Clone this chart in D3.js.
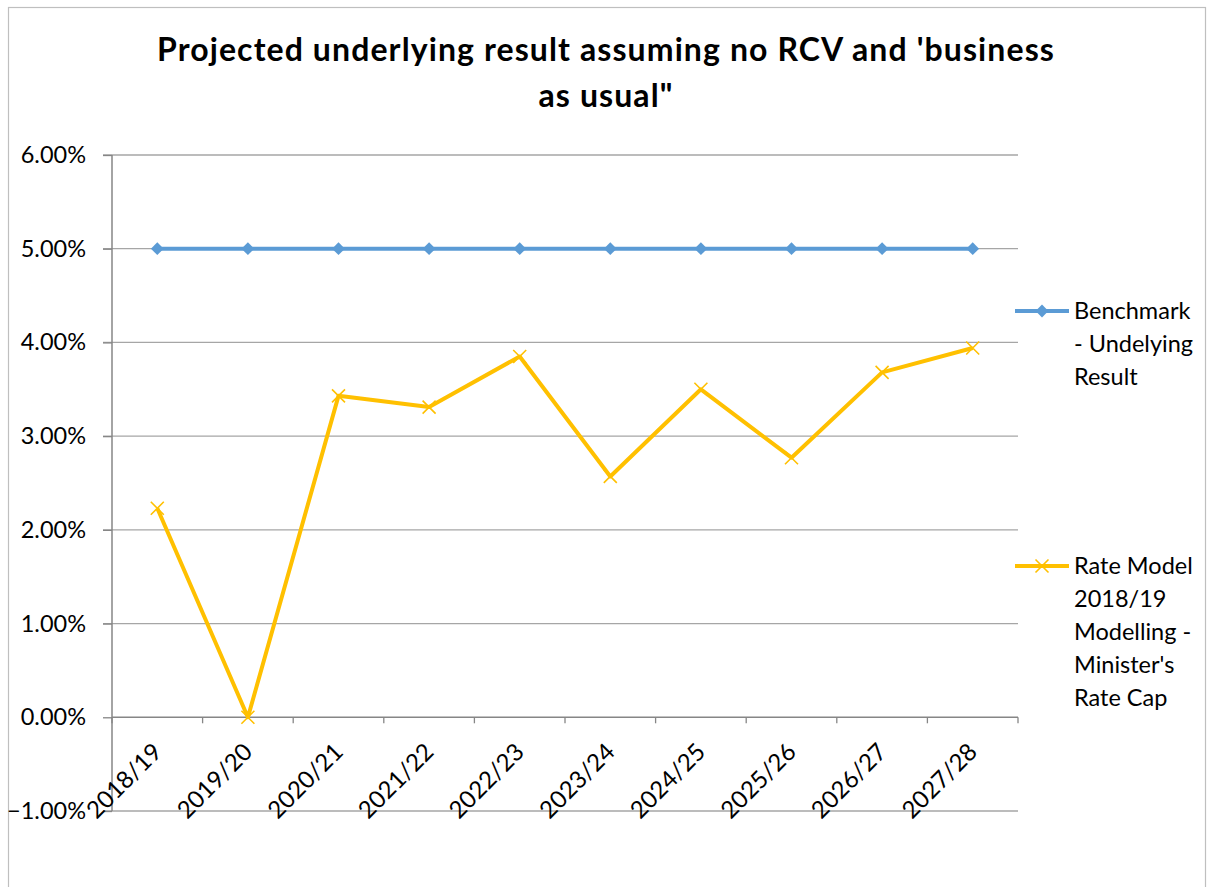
<!DOCTYPE html>
<html>
<head>
<meta charset="utf-8">
<script src="https://cdn.jsdelivr.net/npm/d3@7"></script>
<style>
  body { margin: 0; background: #fff; }
  text { font-family: Lato, "Open Sans", sans-serif; fill: #000; }
</style>
</head>
<body>
<script>
const width = 1212;
const height = 887;

// chart data (percent)
const years = ["2018/19", "2019/20", "2020/21", "2021/22", "2022/23",
               "2023/24", "2024/25", "2025/26", "2026/27", "2027/28"];
const benchmark = [5, 5, 5, 5, 5, 5, 5, 5, 5, 5];
const rateModel = [2.23, 0.00, 3.43, 3.31, 3.85, 2.57, 3.50, 2.77, 3.68, 3.94];
const yTicks = [-1, 0, 1, 2, 3, 4, 5, 6];
const titleLines = ["Projected underlying result assuming no RCV and 'business", "as usual\""];
const seriesNames = [
  ["Benchmark", "- Undelying", "Result"],
  ["Rate Model", "2018/19", "Modelling -", "Minister's", "Rate Cap"]
];

const BLUE = "#5b9bd5";
const GOLD = "#ffc000";
const GRID = "#a6a6a6";
const AXIS = "#868686";

const plot = { left: 112, right: 1018, top: 155, bottom: 811 };

const svg = d3.select("body").append("svg")
    .attr("width", width)
    .attr("height", height);

// chart frame
svg.append("rect")
    .attr("x", 8.5).attr("y", 7.5)
    .attr("width", 1197).attr("height", 920)
    .attr("fill", "none")
    .attr("stroke", "#bfbfbf")
    .attr("stroke-width", 1.2);

// title
svg.append("g").selectAll("text")
    .data(titleLines)
    .enter().append("text")
    .attr("x", 606)
    .attr("y", (d, i) => 61 + i * 46)
    .attr("text-anchor", "middle")
    .attr("font-size", 32)
    .attr("letter-spacing", 1.1)
    .attr("font-weight", "bold")
    .text(d => d);

const x = d3.scaleBand()
    .domain(years)
    .range([plot.left, plot.right]);

const y = d3.scaleLinear()
    .domain([-1, 6])
    .range([plot.bottom, plot.top]);

// horizontal gridlines
svg.append("g").selectAll("line")
    .data(yTicks.filter(t => t !== 0))
    .enter().append("line")
    .attr("x1", plot.left - 9).attr("x2", plot.right)
    .attr("y1", d => y(d)).attr("y2", d => y(d))
    .attr("stroke", GRID)
    .attr("stroke-width", 1.3);

// y axis
const yAxis = svg.append("g")
    .attr("transform", `translate(${plot.left},0)`)
    .call(d3.axisLeft(y)
        .tickValues(yTicks)
        .tickFormat(d => d3.format(".2f")(d) + "%")
        .tickSize(9)
        .tickPadding(17));
yAxis.select(".domain").attr("stroke", AXIS).attr("stroke-width", 1.5)
    .attr("d", `M0,${plot.top}V${plot.bottom}`);
yAxis.selectAll(".tick line").attr("stroke", AXIS).attr("stroke-width", 1.3);
yAxis.selectAll(".tick text")
    .attr("font-size", 23.5)
    .attr("font-family", "Lato, sans-serif")
    .attr("fill", "#000");

// x axis at zero, ticks between categories
const xg = svg.append("g");
xg.append("line")
    .attr("x1", plot.left).attr("x2", plot.right)
    .attr("y1", y(0)).attr("y2", y(0))
    .attr("stroke", AXIS).attr("stroke-width", 1.5);
const bounds = years.map(d => x(d)).concat([plot.right]);
xg.selectAll("line.tk")
    .data(bounds)
    .enter().append("line")
    .attr("class", "tk")
    .attr("x1", d => d).attr("x2", d => d)
    .attr("y1", y(0)).attr("y2", y(0) + 6)
    .attr("stroke", AXIS).attr("stroke-width", 1.3);
xg.selectAll("text")
    .data(years)
    .enter().append("text")
    .attr("transform", d => `translate(${x(d) + x.bandwidth() / 2 + 6},${y(0) + 36}) rotate(-45)`)
    .attr("text-anchor", "end")
    .attr("font-size", 24)
    .text(d => d);

const cx = d => x(d) + x.bandwidth() / 2;
const line = d3.line().x(d => cx(d[0])).y(d => y(d[1]));
const diamond = d3.symbol().type(d3.symbolSquare).size(82);

// benchmark series
svg.append("path")
    .datum(d3.zip(years, benchmark))
    .attr("d", line)
    .attr("fill", "none")
    .attr("stroke", BLUE)
    .attr("stroke-width", 4)
    .attr("stroke-linejoin", "round");
svg.append("g").selectAll("path")
    .data(d3.zip(years, benchmark))
    .enter().append("path")
    .attr("transform", d => `translate(${cx(d[0])},${y(d[1])}) rotate(45)`)
    .attr("d", diamond)
    .attr("fill", BLUE);

// rate model series
svg.append("path")
    .datum(d3.zip(years, rateModel))
    .attr("d", line)
    .attr("fill", "none")
    .attr("stroke", GOLD)
    .attr("stroke-width", 4)
    .attr("stroke-linejoin", "round");

function cross(g, px, py) {
  g.append("path")
      .attr("d", `M${px - 6.5},${py - 6.5}L${px + 6.5},${py + 6.5}M${px - 6.5},${py + 6.5}L${px + 6.5},${py - 6.5}`)
      .attr("stroke", GOLD)
      .attr("stroke-width", 1.6)
      .attr("fill", "none");
}
const crosses = svg.append("g");
d3.zip(years, rateModel).forEach(d => cross(crosses, cx(d[0]), y(d[1])));

// legend
const legend = svg.append("g");
const legendY = [311, 566];
const colors = [BLUE, GOLD];
seriesNames.forEach((names, i) => {
  const ly = legendY[i];
  legend.append("line")
      .attr("x1", 1015).attr("x2", 1069)
      .attr("y1", ly).attr("y2", ly)
      .attr("stroke", colors[i])
      .attr("stroke-width", 4);
  if (i === 0) {
    legend.append("path")
        .attr("transform", `translate(1042,${ly}) rotate(45)`)
        .attr("d", diamond)
        .attr("fill", BLUE);
  } else {
    cross(legend, 1042, ly);
  }
  legend.append("g").selectAll("text")
      .data(names)
      .enter().append("text")
      .attr("x", 1074)
      .attr("y", (d, j) => ly + 8 + j * 33)
      .attr("font-size", 23.5)
      .text(d => d);
});
</script>
</body>
</html>
